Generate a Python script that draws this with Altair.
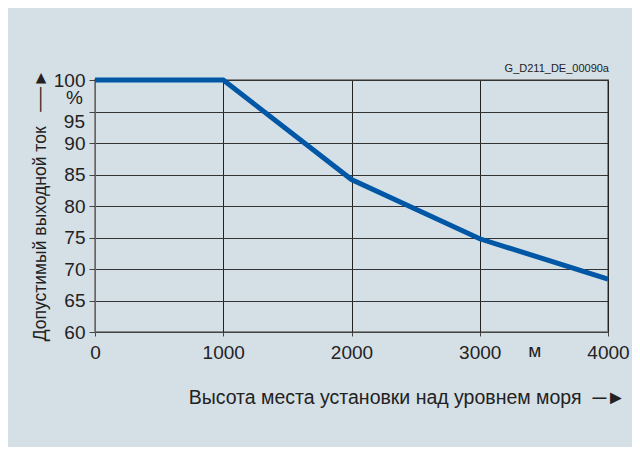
import altair as alt
import pandas as pd

altitude = [0, 1000, 2000, 3000, 4000]
current = [100, 100, 84.2, 74.8, 68.4]
y_ticks = [60, 65, 70, 75, 80, 85, 90, 95, 100]
x_ticks = [0, 1000, 2000, 3000, 4000]

df = pd.DataFrame({"alt": altitude, "cur": current})

FONT = "Liberation Sans"
TXT = "#222222"
BLUE = "#0057a5"
BG = "#d5dfe6"
FS = 19
NB = "\u00a0"

x_scale = alt.Scale(domain=[0, 4000], nice=False, zero=False)
y_scale = alt.Scale(domain=[60, 100], nice=False, zero=False)

x_axis = alt.Axis(values=x_ticks, format="d",
                  title="Высота места установки над уровнем моря" + NB * 2 + "─►",
                  titleFont=FONT, titleFontSize=19.5, titleFontWeight="normal", titleColor=TXT,
                  titleAnchor="end", titleAlign="right", titleX=530, titleY=65,
                  titleBaseline="middle",
                  labelFont=FONT, labelFontSize=FS, labelColor=TXT, labelPadding=7,
                  labelOverlap=False,
                  tickSize=4, tickColor="#444", domainColor="#444",
                  grid=True, gridColor="#222", labelFlush=False)
y_axis = alt.Axis(values=y_ticks, format="d",
                  labelExpr="datum.value == 95 ? '' : datum.label",
                  title="Допустимый выходной ток" + NB * 3 + "──►",
                  titleFont=FONT, titleFontSize=17.5, titleFontWeight="normal", titleColor=TXT,
                  titleAngle=270, titleX=-55, titleY=125, titleAlign="center",
                  titleBaseline="middle",
                  labelFont=FONT, labelFontSize=FS, labelColor=TXT, labelPadding=4,
                  labelOverlap=False,
                  tickSize=6, tickColor="#444", domainColor="#666",
                  grid=True, gridColor="#333", labelFlush=False)

line = alt.Chart(df).mark_line(color=BLUE, strokeWidth=5, strokeCap="butt", strokeJoin="miter").encode(
    x=alt.X("alt:Q", scale=x_scale, axis=x_axis),
    y=alt.Y("cur:Q", scale=y_scale, axis=y_axis),
)

def note(xv, yv, text, **kw):
    return alt.Chart(pd.DataFrame({"alt": [xv], "cur": [yv], "t": [text]})).mark_text(
        font=FONT, color=TXT, **kw
    ).encode(x=alt.X("alt:Q", scale=x_scale, axis=x_axis),
             y=alt.Y("cur:Q", scale=y_scale, axis=y_axis), text="t:N")

pct = note(0, 97.1, "%", fontSize=FS, align="right", baseline="middle", dx=-12)
lab95 = note(0, 95, "95", fontSize=FS, align="right", baseline="middle", dx=-10, dy=10)
unit = note(3430, 60, "м", fontSize=FS, align="center", baseline="alphabetic", dy=25)
code = note(4000, 100, "G_D211_DE_00090a", fontSize=11, align="right",
            baseline="alphabetic", dx=1, dy=-8)

chart = alt.layer(line, pct, lab95, unit, code).properties(
    width=513, height=252,
    background=BG,
    autosize=alt.AutoSizeParams(type="none"),
    padding={"left": 87, "top": 72, "right": 24, "bottom": 115},
).configure_view(stroke="#888", strokeWidth=2)

chart.save("out.html", embed_options={"renderer": "svg", "actions": False})
